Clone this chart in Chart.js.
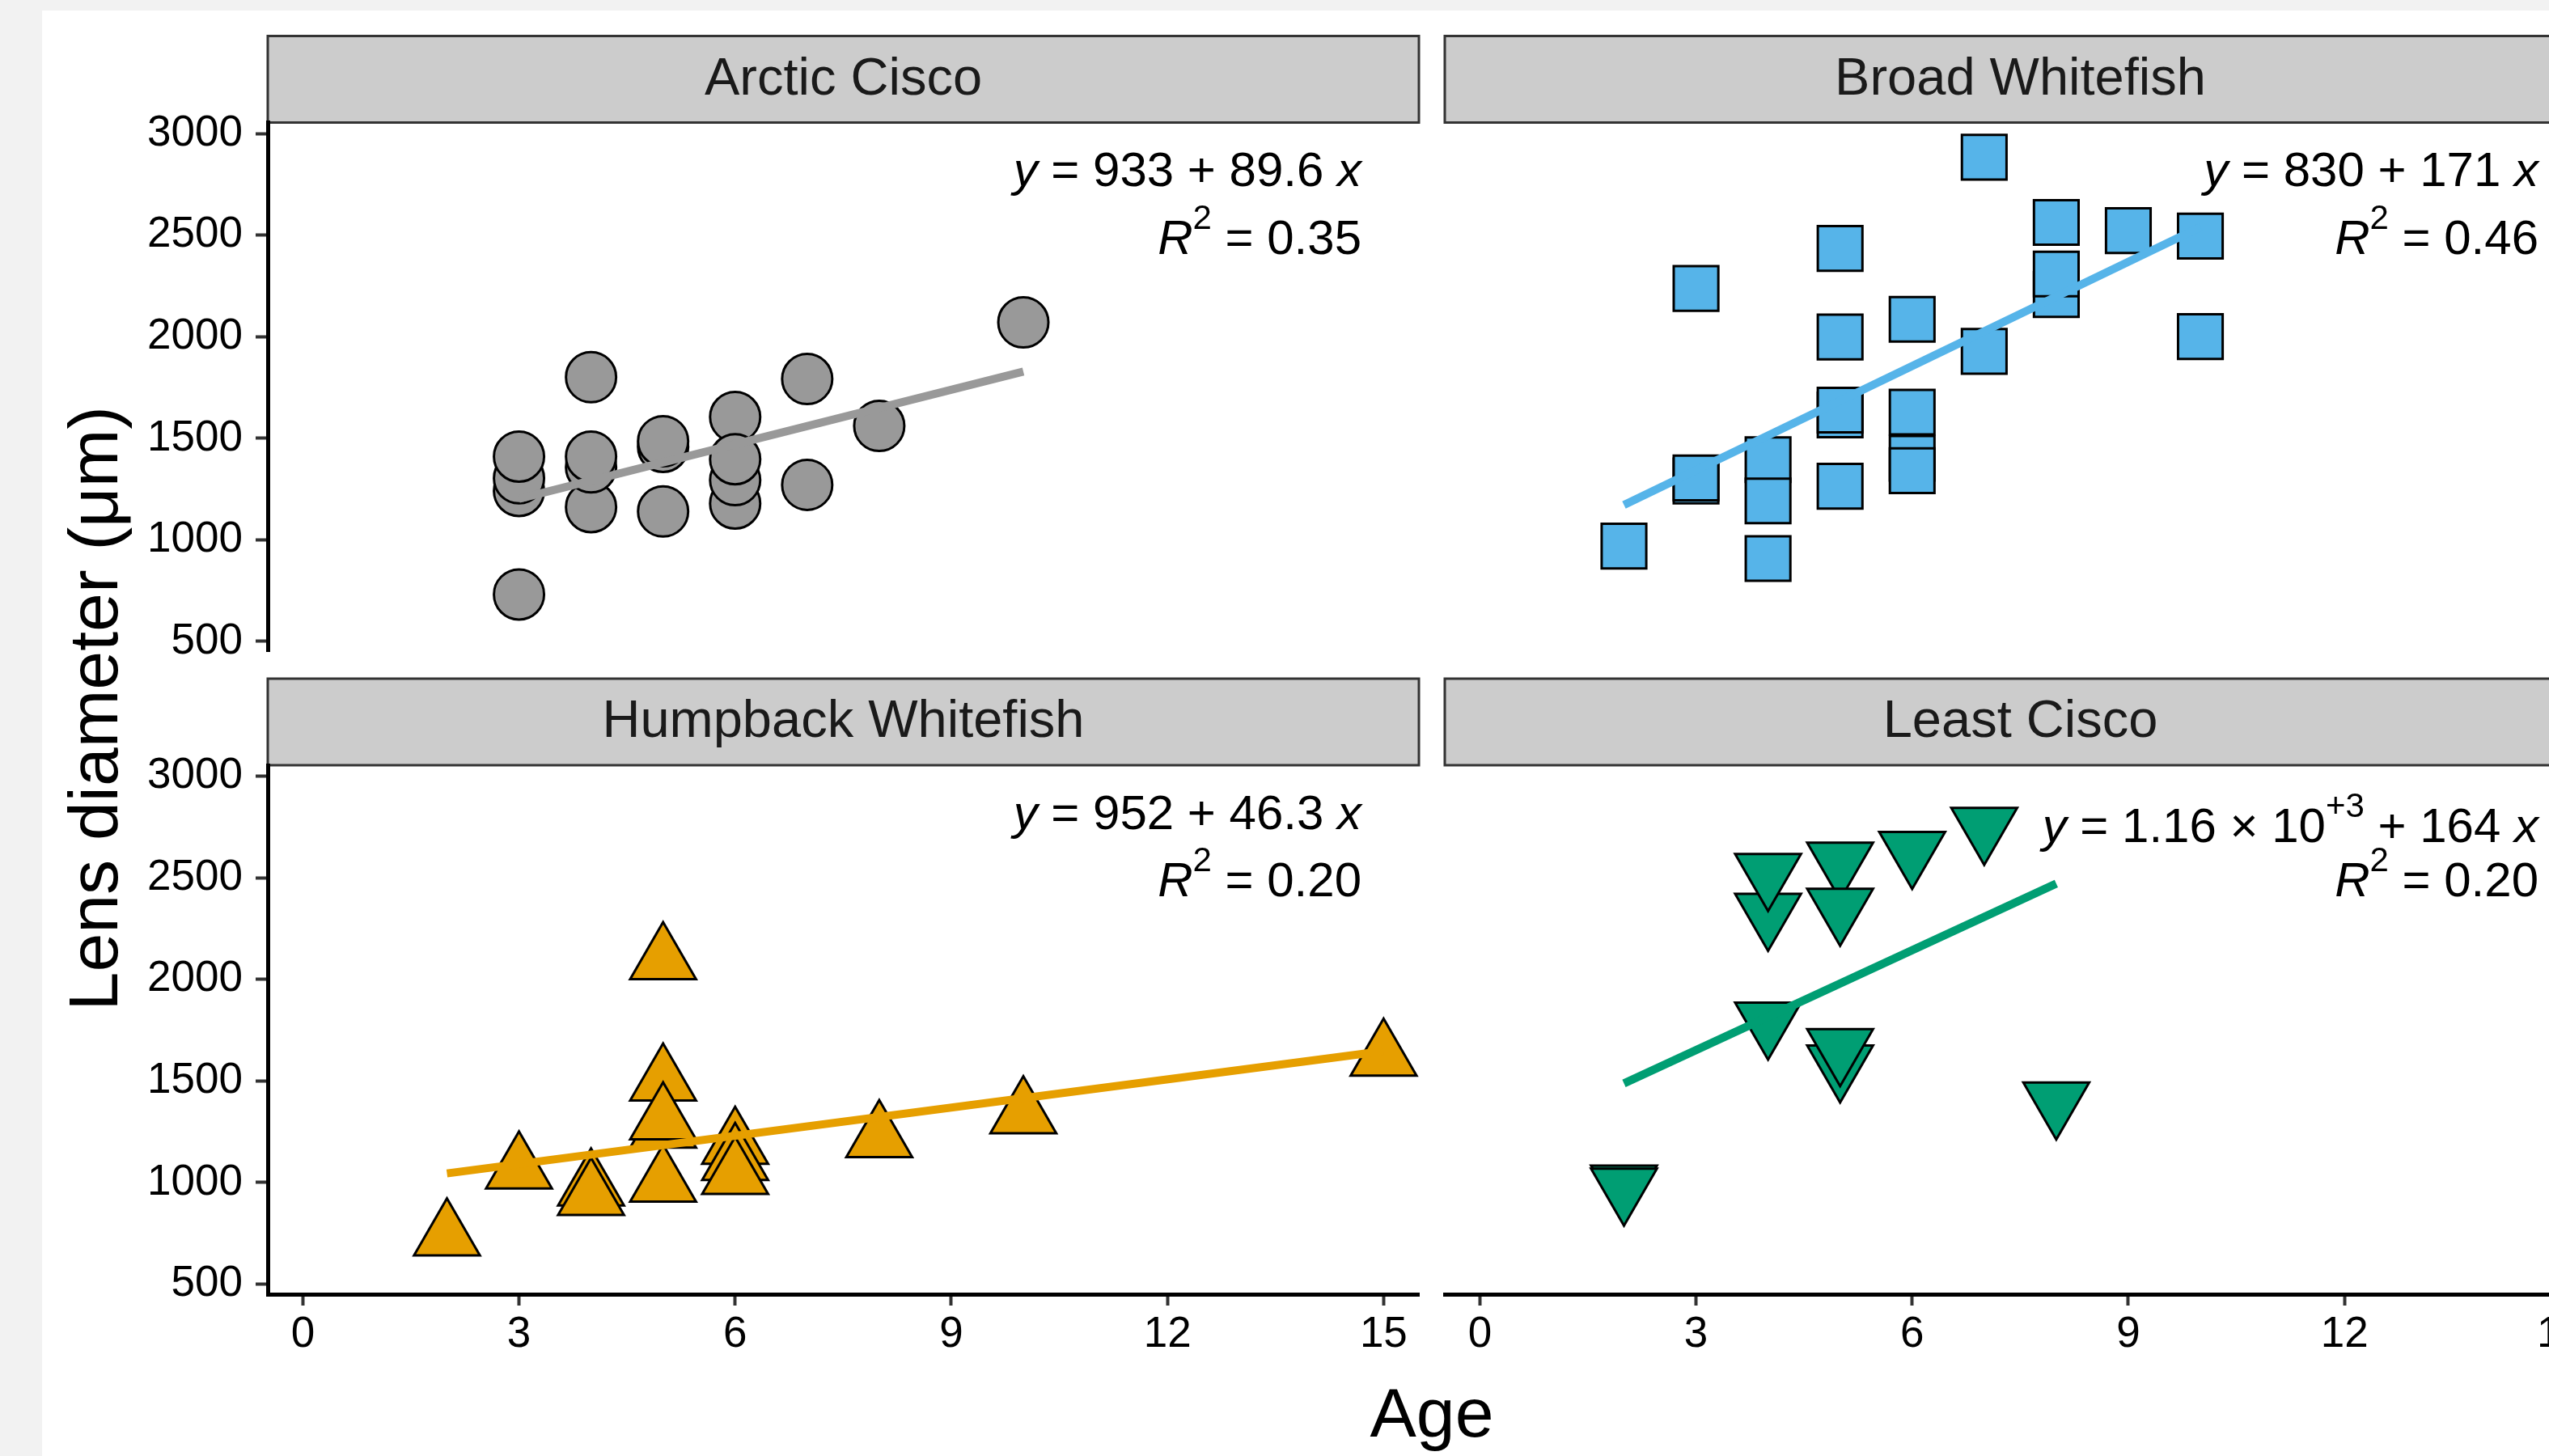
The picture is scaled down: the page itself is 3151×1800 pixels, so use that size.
<!DOCTYPE html>
<html>
<head>
<meta charset="utf-8">
<script src="https://cdn.jsdelivr.net/npm/chart.js@4.4.1/dist/chart.umd.min.js"></script>
<style>
html, body { margin: 0; padding: 0; width: 3151px; height: 1800px; overflow: hidden; background: #f2f2f2; }
canvas { position: absolute; left: 0; top: 0; }
</style>
</head>
<body>
<canvas id="c0" width="3300" height="1800"></canvas>
<canvas id="c1" width="3300" height="1800"></canvas>
<canvas id="c2" width="3300" height="1800"></canvas>
<canvas id="c3" width="3300" height="1800"></canvas>
<script>
// ---------------- data ----------------
const ageTicks = [0, 3, 6, 9, 12, 15];
const diameterTicks = [500, 1000, 1500, 2000, 2500, 3000];
const panelNames = ['Arctic Cisco', 'Broad Whitefish', 'Humpback Whitefish', 'Least Cisco'];
const xTitle = 'Age';
const yTitle = 'Lens diameter (μm)';

const arcticAge      = [3, 3, 3, 3, 4, 4, 4, 4, 5, 5, 5, 6, 6, 6, 6, 7, 7, 8, 10];
const arcticDiameter = [731, 1241, 1303, 1410, 1801, 1161, 1357, 1410, 1140, 1458, 1486, 1179, 1294, 1605, 1397, 1271, 1792, 1561, 2071];
const arcticFitAge      = [3, 10];
const arcticFitDiameter = [1202, 1829];

const broadAge      = [2, 3, 3, 3, 4, 4, 4, 5, 5, 5, 5, 5, 6, 6, 6, 6, 7, 7, 8, 8, 8, 9, 10, 10];
const broadDiameter = [969, 2238, 1290, 1305, 1395, 1192, 908, 2435, 1999, 1615, 1639, 1264, 2086, 1629, 1402, 1341, 2884, 1928, 2563, 2208, 2309, 2523, 2496, 2001];
const broadFitAge      = [2, 10];
const broadFitDiameter = [1172, 2540];

const humpbackAge      = [2, 3, 4, 4, 5, 5, 5, 5, 5, 6, 6, 6, 8, 10, 15];
const humpbackDiameter = [735, 1064, 981, 934, 2095, 1498, 1000, 1266, 1306, 1186, 1106, 1038, 1219, 1336, 1620];
const humpbackFitAge      = [2, 15];
const humpbackFitDiameter = [1045, 1647];

const leastAge      = [2, 2, 4, 4, 4, 5, 5, 5, 5, 6, 7, 8];
const leastDiameter = [990, 975, 2328, 2524, 1792, 2580, 2353, 1581, 1662, 2633, 2751, 1399];
const leastFitAge      = [2, 8];
const leastFitDiameter = [1488, 2472];

// equation labels (runs: it = italic, sup = superscript)
const eqArctic   = [{t: 'y', it: true}, {t: ' = 933 + 89.6 '}, {t: 'x', it: true}];
const eqBroad    = [{t: 'y', it: true}, {t: ' = 830 + 171 '}, {t: 'x', it: true}];
const eqHumpback = [{t: 'y', it: true}, {t: ' = 952 + 46.3 '}, {t: 'x', it: true}];
const eqLeast    = [{t: 'y', it: true}, {t: ' = 1.16 × 10'}, {t: '+3', sup: true}, {t: ' + 164 '}, {t: 'x', it: true}];
const r2Arctic   = [{t: 'R', it: true}, {t: '2', sup: true}, {t: ' = 0.35'}];
const r2Broad    = [{t: 'R', it: true}, {t: '2', sup: true}, {t: ' = 0.46'}];
const r2Humpback = [{t: 'R', it: true}, {t: '2', sup: true}, {t: ' = 0.20'}];
const r2Least    = [{t: 'R', it: true}, {t: '2', sup: true}, {t: ' = 0.20'}];

// ---------------- layout / style ----------------
const FONT = '"Liberation Sans", Arial, Helvetica, sans-serif';
const CW = 3300, CH = 1800;
const L = {
  colLeft: [331, 1786], colRight: [1754, 3209],
  rowTop: [151.5, 946], rowBottom: [805.5, 1600],
  stripH: 107, frameLeft: 52, frameTop: 13,
  yAxisW: 279, xAxisH: 150,
  xMin: -0.487, xMax: 15.49, yMin: 450, yMax: 3055
};

function drawRuns(ctx, runs, rightX, baseY) {
  const fontFor = r => (r.it ? 'italic ' : '') + (r.sup ? 42 : 60) + 'px ' + FONT;
  let total = 0;
  const widths = runs.map(r => { ctx.font = fontFor(r); const w = ctx.measureText(r.t).width; total += w; return w; });
  let x = rightX - total;
  ctx.textAlign = 'left';
  ctx.textBaseline = 'alphabetic';
  ctx.fillStyle = '#000';
  runs.forEach((r, i) => {
    ctx.font = fontFor(r);
    ctx.fillText(r.t, x, r.sup ? baseY - 31 : baseY);
    x += widths[i];
  });
}

const panelDeco = {
  id: 'panelDeco',
  beforeDraw(chart, args, o) {
    const ctx = chart.ctx, a = chart.chartArea;
    ctx.save();
    if (o.background) {
      ctx.fillStyle = '#f2f2f2';
      ctx.fillRect(0, 0, chart.width, chart.height);
      ctx.fillStyle = '#ffffff';
      ctx.fillRect(L.frameLeft, L.frameTop, chart.width - L.frameLeft, chart.height - L.frameTop);
      ctx.fillStyle = '#000';
      ctx.font = '86px ' + FONT;
      ctx.textAlign = 'center';
      ctx.textBaseline = 'alphabetic';
      ctx.fillText(xTitle, (L.colLeft[0] + L.colRight[1]) / 2, 1776);
      ctx.save();
      ctx.translate(145, (L.rowTop[0] + L.rowBottom[1]) / 2);
      ctx.rotate(-Math.PI / 2);
      ctx.fillText(yTitle, 0, 0);
      ctx.restore();
    }
    const top = a.top - L.stripH;
    ctx.fillStyle = '#cccccc';
    ctx.fillRect(a.left, top, a.right - a.left, L.stripH);
    ctx.strokeStyle = '#333333';
    ctx.lineWidth = 3;
    ctx.strokeRect(a.left, top, a.right - a.left, L.stripH);
    ctx.fillStyle = '#1a1a1a';
    ctx.font = '65px ' + FONT;
    ctx.textAlign = 'center';
    ctx.textBaseline = 'middle';
    ctx.fillText(o.strip, (a.left + a.right) / 2, top + L.stripH / 2 + 1);
    ctx.restore();
  },
  afterDraw(chart, args, o) {
    const ctx = chart.ctx, a = chart.chartArea;
    ctx.save();
    drawRuns(ctx, o.eq, a.right - 71, a.top + 78.5 + o.eqDrop);
    drawRuns(ctx, o.r2, a.right - 71, a.top + 162);
    ctx.restore();
  }
};

function makePanel(p) {
  const pts = p.ages.map((x, i) => ({x: x, y: p.diam[i]}));
  const fit = p.fitAge.map((x, i) => ({x: x, y: p.fitDiam[i]}));
  const showX = p.row === 1, showY = p.col === 0;
  const padBottom = showX ? CH - L.rowBottom[1] - L.xAxisH : CH - L.rowBottom[p.row];
  new Chart(document.getElementById(p.id), {
    type: 'scatter',
    data: {
      datasets: [
        {
          type: 'line', data: fit, borderColor: p.color, borderWidth: 10,
          borderCapStyle: 'butt', pointRadius: 0, fill: false, tension: 0, order: 0
        },
        {
          type: 'scatter', data: pts, order: 1,
          pointStyle: p.style, pointRadius: p.radius, pointHoverRadius: p.radius,
          pointRotation: p.rot,
          pointBackgroundColor: p.color, backgroundColor: p.color,
          pointBorderColor: '#000000', borderColor: '#000000',
          pointBorderWidth: 3, borderWidth: 3
        }
      ]
    },
    options: {
      responsive: false, animation: false, devicePixelRatio: 1, events: [],
      layout: { padding: {
        left: showY ? L.frameLeft : L.colLeft[p.col],
        right: CW - L.colRight[p.col],
        top: L.rowTop[p.row],
        bottom: padBottom
      } },
      plugins: {
        legend: { display: false }, tooltip: { enabled: false },
        panelDeco: { background: p.background, strip: p.name, eq: p.eq, r2: p.r2, eqDrop: p.eqDrop }
      },
      scales: {
        x: {
          type: 'linear', position: 'bottom', min: L.xMin, max: L.xMax, display: showX,
          afterBuildTicks: s => { s.ticks = ageTicks.map(v => ({value: v})); },
          afterFit: s => { s.height = showX ? L.xAxisH : 0; },
          grid: { drawOnChartArea: false, drawTicks: true, tickLength: 14, tickWidth: 4, tickColor: '#333333' },
          border: { display: true, color: '#000000', width: 5 },
          ticks: { font: { family: FONT, size: 53 }, color: '#000000', padding: 5, maxRotation: 0, autoSkip: false,
                   callback: v => String(v) }
        },
        y: {
          type: 'linear', position: 'left', min: L.yMin, max: L.yMax, display: showY,
          afterBuildTicks: s => { s.ticks = diameterTicks.map(v => ({value: v})); },
          afterFit: s => { s.width = showY ? L.yAxisW : 0; },
          grid: { drawOnChartArea: false, drawTicks: true, tickLength: 15, tickWidth: 4, tickColor: '#333333' },
          border: { display: true, color: '#000000', width: 5 },
          ticks: { font: { family: FONT, size: 53 }, color: '#000000', padding: 16, autoSkip: false,
                   callback: v => String(v) }
        }
      }
    },
    plugins: [panelDeco]
  });
}

makePanel({id: 'c0', col: 0, row: 0, background: true, name: panelNames[0], ages: arcticAge, diam: arcticDiameter,
  fitAge: arcticFitAge, fitDiam: arcticFitDiameter, color: '#999999', style: 'circle', radius: 31, rot: 0,
  eq: eqArctic, r2: r2Arctic, eqDrop: 0});
makePanel({id: 'c1', col: 1, row: 0, background: false, name: panelNames[1], ages: broadAge, diam: broadDiameter,
  fitAge: broadFitAge, fitDiam: broadFitDiameter, color: '#56B4E9', style: 'rect', radius: 39, rot: 0,
  eq: eqBroad, r2: r2Broad, eqDrop: 0});
makePanel({id: 'c2', col: 0, row: 1, background: false, name: panelNames[2], ages: humpbackAge, diam: humpbackDiameter,
  fitAge: humpbackFitAge, fitDiam: humpbackFitDiameter, color: '#E69F00', style: 'triangle', radius: 47, rot: 0,
  eq: eqHumpback, r2: r2Humpback, eqDrop: 0});
makePanel({id: 'c3', col: 1, row: 1, background: false, name: panelNames[3], ages: leastAge, diam: leastDiameter,
  fitAge: leastFitAge, fitDiam: leastFitDiameter, color: '#009E73', style: 'triangle', radius: 47, rot: 180,
  eq: eqLeast, r2: r2Least, eqDrop: 16});
</script>
</body>
</html>
